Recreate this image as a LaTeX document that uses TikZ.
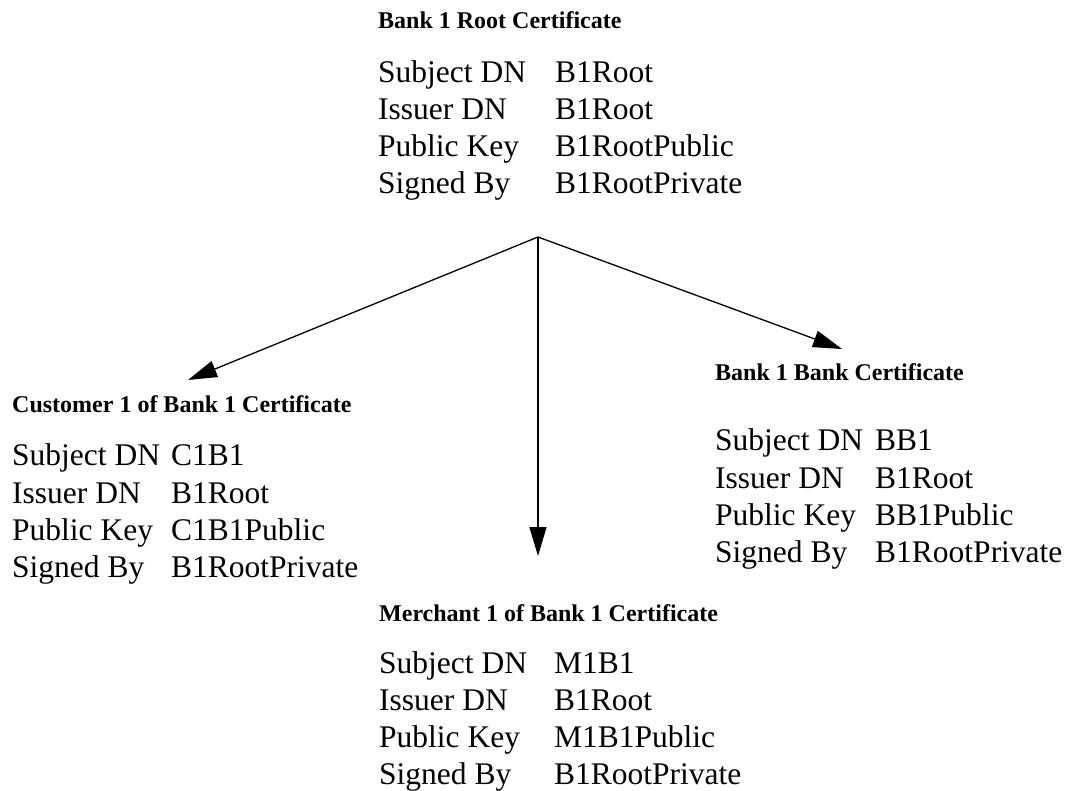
\documentclass[tikz,border=0pt]{standalone}
\usepackage{fontspec}
\setmainfont{Liberation Serif}
\usetikzlibrary{arrows.meta}
\tikzset{
  certtitle/.style={anchor=base west, inner sep=0pt, font=\fontsize{24}{28}\selectfont\bfseries},
  certfield/.style={anchor=base west, inner sep=0pt, font=\fontsize{31.5}{37}\selectfont},
  issue/.style={line width=1.3pt, -{Triangle[length=29pt, width=17pt]}, shorten >=0pt}
}
% draw one certificate: #1 name, #2 left x, #3 value x, #4 title baseline,
% #5 first row baseline, #6 title, #7-#10 values
\newcommand{\certblock}[9]{%
  \node[certtitle] (#1-title) at (#2,#4) {#6};
  \node[certfield] (#1-sl) at (#2,#5) {Subject DN};
  \node[certfield] (#1-sv) at (#3,#5) {#7};
  \node[certfield] (#1-il) at (#2,#5+37) {Issuer DN};
  \node[certfield] (#1-iv) at (#3,#5+37) {B1Root};
  \node[certfield] (#1-pl) at (#2,#5+74) {Public Key};
  \node[certfield] (#1-pv) at (#3,#5+74) {#8};
  \node[certfield] (#1-gl) at (#2,#5+111) {Signed By};
  \node[certfield] (#1-gv) at (#3,#5+111) {#9};
}
\begin{document}
\begin{tikzpicture}[x=1pt, y=-1pt]
  \useasboundingbox (0,0) rectangle (1074,791);

  % root certificate
  \certblock{root}{378}{555}{29}{83}{Bank 1 Root Certificate}{B1Root}{B1RootPublic}{B1RootPrivate}
  % customer certificate
  \certblock{cust}{12}{171}{413}{466}{Customer 1 of Bank 1 Certificate}{C1B1}{C1B1Public}{B1RootPrivate}
  % bank certificate
  \certblock{bank}{715}{875}{381}{451}{Bank 1 Bank Certificate}{BB1}{BB1Public}{B1RootPrivate}
  % merchant certificate
  \certblock{merch}{379}{554}{621}{673}{Merchant 1 of Bank 1 Certificate}{M1B1}{M1B1Public}{B1RootPrivate}

  % issuing arrows from the root
  \coordinate (hub) at (538,237);
  \coordinate (custtip) at (188,380);
  \coordinate (merchtip) at (538,556);
  \coordinate (banktip) at (842,349);
  \draw[issue] (hub) -- (custtip);
  \draw[issue] (hub) -- (merchtip);
  \draw[issue] (hub) -- (banktip);
\end{tikzpicture}
\end{document}
